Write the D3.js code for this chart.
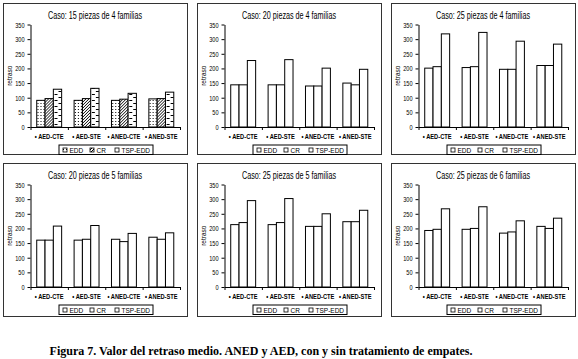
<!DOCTYPE html>
<html>
<head>
<meta charset="utf-8">
<script src="https://cdn.jsdelivr.net/npm/d3@7"></script>
<style>
body { margin: 0; background: #fff; }
svg { display: block; }
</style>
</head>
<body>
<script>
const width = 578, height = 359;

// data
const categories = ["AED-CTE", "AED-STE", "ANED-CTE", "ANED-STE"];
const seriesNames = ["EDD", "CR", "TSP-EDD"];
const titles = [
    "Caso: 15 piezas de 4 familias",
    "Caso: 20 piezas de 4 familias",
    "Caso: 25 piezas de 4 familias",
    "Caso: 20 piezas de 5 familias",
    "Caso: 25 piezas de 5 familias",
    "Caso: 25 piezas de 6 familias"
];
const eddValues = [
    [91, 91, 91, 96],
    [144, 144, 140, 150],
    [201, 203, 197, 210],
    [160, 160, 163, 170],
    [213, 213, 207, 223],
    [193, 197, 184, 207]
];
const crValues = [
    [97, 97, 95, 97],
    [144, 144, 140, 144],
    [206, 206, 197, 210],
    [160, 163, 155, 163],
    [220, 220, 207, 223],
    [197, 200, 188, 200]
];
const tspValues = [
    [129, 132, 115, 119],
    [227, 230, 201, 197],
    [318, 323, 293, 283],
    [208, 210, 183, 185],
    [295, 302, 250, 262],
    [267, 274, 226, 235]
];
const yTicks = [0, 50, 100, 150, 200, 250, 300, 350];
const yLabel = "retraso";
const caption = "Figura 7. Valor del retraso medio. ANED y AED, con y sin tratamiento de empates.";

// layout
const panelX = [3, 197, 391], panelY = [3, 163];
const panelW = 184, panelH = [151, 153];
const plot = { left: 27.5, right: 177, top: 21.5, bottom: 124 };

// the scanned figure is squashed horizontally, squeeze text the same way
function squeeze(sel, k) {
    sel.each(function () {
        const w = this.getComputedTextLength();
        d3.select(this).attr("textLength", w * k).attr("lengthAdjust", "spacingAndGlyphs");
    });
}

const svg = d3.select("body")
    .append("svg")
    .attr("width", width)
    .attr("height", height)
    .attr("viewBox", [0, 0, width, height])
    .style("font-family", "Arial, 'Liberation Sans', sans-serif");

// fill patterns used by the first chart
const defs = svg.append("defs");
let p = defs.append("pattern").attr("id", "dots")
    .attr("width", 3).attr("height", 3).attr("patternUnits", "userSpaceOnUse");
p.append("rect").attr("width", 3).attr("height", 3).attr("fill", "#fff");
p.append("rect").attr("x", 1).attr("y", 1).attr("width", 1).attr("height", 1).attr("fill", "#000");

p = defs.append("pattern").attr("id", "diag")
    .attr("width", 3).attr("height", 3).attr("patternUnits", "userSpaceOnUse");
p.append("rect").attr("width", 3).attr("height", 3).attr("fill", "#fff");
p.append("path").attr("d", "M-1,1 L1,-1 M0,3 L3,0 M2,4 L4,2").attr("stroke", "#000").attr("stroke-width", 1);

p = defs.append("pattern").attr("id", "dash")
    .attr("width", 8).attr("height", 6).attr("patternUnits", "userSpaceOnUse");
p.append("rect").attr("width", 8).attr("height", 6).attr("fill", "#fff");
p.append("path").attr("d", "M0,1.5 H3 M4,4.5 H7").attr("stroke", "#000").attr("stroke-width", 1);

const patternFills = ["url(#dots)", "url(#diag)", "url(#dash)"];

const y = d3.scaleLinear()
    .domain([0, 350])
    .range([plot.bottom, plot.top]);

const x0 = d3.scaleBand()
    .domain(categories)
    .range([plot.left, plot.right])
    .padding(0);

const x1 = d3.scaleBand()
    .domain(seriesNames)
    .range([0, x0.bandwidth()])
    .paddingInner(0)
    .paddingOuter(0.75);

const xb = d3.scaleLinear()
    .domain([0, categories.length])
    .range([plot.left, plot.right]);

for (let i = 0; i < titles.length; i++) {
    const col = i % 3, row = Math.floor(i / 3);
    const h = panelH[row];
    const g = svg.append("g")
        .attr("transform", `translate(${panelX[col]},${panelY[row]})`);

    g.append("rect")
        .attr("x", 0.5).attr("y", 0.5)
        .attr("width", panelW).attr("height", h)
        .attr("fill", "#fff")
        .attr("stroke", "#333");

    const title = g.append("text")
        .text(titles[i])
        .attr("x", panelW / 2)
        .attr("y", 15.5)
        .attr("text-anchor", "middle")
        .style("font-size", "10px");
    squeeze(title, 0.72);

    // bars
    const rows = categories.map((c, j) => ({
        cat: c,
        vals: [eddValues[i][j], crValues[i][j], tspValues[i][j]]
    }));

    const grp = g.selectAll(".grp")
        .data(rows)
        .join("g")
        .attr("class", "grp")
        .attr("transform", d => `translate(${x0(d.cat)},0)`);

    grp.selectAll("rect")
        .data(d => d.vals.map((v, k) => ({ s: seriesNames[k], k: k, v: v })))
        .join("rect")
        .attr("x", d => x1(d.s))
        .attr("width", x1.bandwidth())
        .attr("y", d => y(d.v))
        .attr("height", d => y(0) - y(d.v))
        .attr("fill", d => i == 0 ? patternFills[d.k] : "#fff")
        .attr("stroke", "#000")
        .attr("stroke-width", 1);

    // y axis
    const ya = g.append("g")
        .attr("transform", `translate(${plot.left},0)`)
        .call(d3.axisLeft(y).tickValues(yTicks).tickSize(3).tickSizeOuter(0).tickPadding(3));
    ya.selectAll("text").style("font-size", "8px").attr("fill", "#000");
    ya.selectAll("line,path").attr("stroke", "#000");
    squeeze(ya.selectAll("text"), 0.7);

    // x axis: ticks between categories
    const xa = g.append("g")
        .attr("transform", `translate(0,${plot.bottom})`)
        .call(d3.axisBottom(xb).tickValues(d3.range(categories.length + 1)).tickFormat("").tickSize(3).tickSizeOuter(0));
    xa.selectAll("line,path").attr("stroke", "#000");

    const cats = g.selectAll(".cat")
        .data(categories)
        .join("text")
        .attr("class", "cat")
        .text(d => "\u2022 " + d)
        .attr("x", d => x0(d) + x0.bandwidth() / 2)
        .attr("y", 136)
        .attr("text-anchor", "middle")
        .style("font-size", "6.5px")
        .style("font-weight", "bold");
    squeeze(cats, 0.88);

    g.append("text")
        .text(yLabel)
        .attr("transform", `translate(9,${(plot.top + plot.bottom) / 2}) rotate(-90)`)
        .attr("text-anchor", "middle")
        .style("font-size", "6.5px");

    // legend
    const lw = 94, lx = 103 - lw / 2, ly = 142;
    const lg = g.append("g").attr("transform", `translate(${lx},${ly})`);
    lg.append("rect")
        .attr("width", lw).attr("height", 9.5)
        .attr("fill", "#fff").attr("stroke", "#000");
    const offs = [4, 31, 56];
    seriesNames.forEach((s, k) => {
        lg.append("rect")
            .attr("x", offs[k]).attr("y", 3)
            .attr("width", 4).attr("height", 4)
            .attr("fill", i == 0 ? patternFills[k] : "#fff")
            .attr("stroke", "#000").attr("stroke-width", 0.8);
        lg.append("text")
            .text(s)
            .attr("x", offs[k] + 6.5)
            .attr("y", 7.6)
            .style("font-size", "6.5px");
    });
}

svg.append("text")
    .text(caption)
    .attr("x", 261)
    .attr("y", 355)
    .attr("text-anchor", "middle")
    .style("font-family", "'Times New Roman', 'Liberation Serif', serif")
    .style("font-size", "12px")
    .style("font-weight", "bold");
</script>
</body>
</html>
